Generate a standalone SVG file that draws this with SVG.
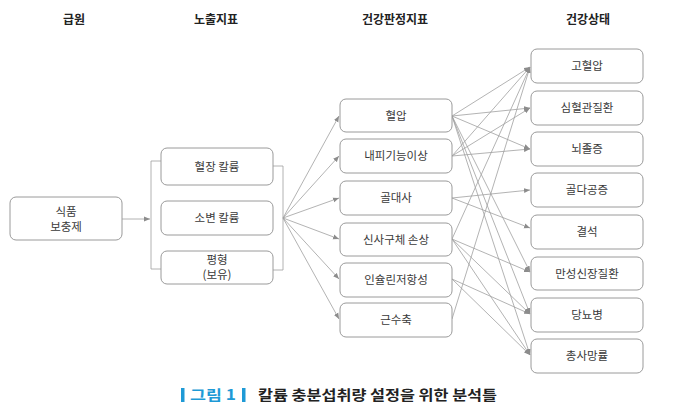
<svg xmlns="http://www.w3.org/2000/svg" width="674" height="415" viewBox="0 0 674 415">
<defs>
<marker id="ah" viewBox="0 0 6 6" refX="6" refY="3" markerWidth="6" markerHeight="6" markerUnits="userSpaceOnUse" orient="auto">
<path d="M0,0.5 L6,3 L0,5.5 Z" fill="#8c8c8c"/>
</marker>
<style>
.bx{fill:#fff;stroke:#9a9a9a;stroke-width:1}
.t{font-family:"Noto Sans CJK KR","Noto Sans",sans-serif;font-size:11.5px;fill:#3a3a3a;text-anchor:middle}
.h{font-family:"Noto Sans CJK KR","Noto Sans",sans-serif;font-size:12px;font-weight:bold;fill:#222;text-anchor:middle}
.c line,.c path{stroke:#a0a0a0;stroke-width:0.8;fill:none}
.a{marker-end:url(#ah)}
</style>
</defs>
<rect width="674" height="415" fill="#fff"/>
<g id="headers">
<text class="h" x="74" y="24">급원</text>
<text class="h" x="216" y="24">노출지표</text>
<text class="h" x="395" y="24">건강판정지표</text>
<text class="h" x="588" y="24">건강상태</text>
</g>
<g id="connectors" class="c">
<line class="a" x1="122" y1="219" x2="150" y2="219"/>
<path d="M161,161 H151 V269 H161"/>
<path d="M273,166 H283 V270 H273"/>
<line class="a" x1="283" y1="218" x2="339" y2="116"/>
<line class="a" x1="283" y1="218" x2="339" y2="156"/>
<line class="a" x1="283" y1="218" x2="339" y2="198"/>
<line class="a" x1="283" y1="218" x2="339" y2="239"/>
<line class="a" x1="283" y1="218" x2="339" y2="279"/>
<line class="a" x1="283" y1="218" x2="339" y2="319"/>
<line class="a" x1="452" y1="116" x2="530" y2="67"/>
<line class="a" x1="452" y1="116" x2="530" y2="108"/>
<line class="a" x1="452" y1="116" x2="530" y2="149"/>
<line class="a" x1="452" y1="116" x2="530" y2="272"/>
<line class="a" x1="452" y1="116" x2="530" y2="314"/>
<line class="a" x1="452" y1="116" x2="530" y2="355"/>
<line class="a" x1="452" y1="156" x2="530" y2="67"/>
<line class="a" x1="452" y1="156" x2="530" y2="108"/>
<line class="a" x1="452" y1="156" x2="530" y2="149"/>
<line class="a" x1="452" y1="198" x2="530" y2="190"/>
<line class="a" x1="452" y1="198" x2="530" y2="228"/>
<line class="a" x1="452" y1="239" x2="530" y2="67"/>
<line class="a" x1="452" y1="239" x2="530" y2="272"/>
<line class="a" x1="452" y1="239" x2="530" y2="314"/>
<line class="a" x1="452" y1="239" x2="530" y2="355"/>
<line class="a" x1="452" y1="279" x2="530" y2="314"/>
<line class="a" x1="452" y1="279" x2="530" y2="355"/>
<line class="a" x1="452" y1="319" x2="530" y2="67"/>
</g>
<g id="n-food"><rect class="bx" x="10" y="197" width="112" height="43" rx="6"/><text class="t" x="66" y="216">식품</text><text class="t" x="66" y="231">보충제</text></g>
<g id="n-plasma"><rect class="bx" x="161" y="148" width="112" height="37" rx="6"/><text class="t" x="217" y="171">혈장 칼륨</text></g>
<g id="n-urine"><rect class="bx" x="161" y="201" width="112" height="34" rx="6"/><text class="t" x="217" y="222">소변 칼륨</text></g>
<g id="n-balance"><rect class="bx" x="161" y="251" width="112" height="33" rx="6"/><text class="t" x="217" y="264">평형</text><text class="t" x="217" y="279">(보유)</text></g>
<g id="n-bp"><rect class="bx" x="340" y="99" width="112" height="33" rx="6"/><text class="t" x="396" y="120">혈압</text></g>
<g id="n-endo"><rect class="bx" x="340" y="139" width="112" height="34" rx="6"/><text class="t" x="396" y="160">내피기능이상</text></g>
<g id="n-bone"><rect class="bx" x="340" y="181" width="112" height="34" rx="6"/><text class="t" x="396" y="202">골대사</text></g>
<g id="n-glom"><rect class="bx" x="340" y="223" width="112" height="33" rx="6"/><text class="t" x="396" y="244">신사구체 손상</text></g>
<g id="n-insulin"><rect class="bx" x="340" y="263" width="112" height="34" rx="6"/><text class="t" x="396" y="284">인슐린저항성</text></g>
<g id="n-muscle"><rect class="bx" x="340" y="303" width="112" height="34" rx="6"/><text class="t" x="396" y="324">근수축</text></g>
<g id="n-htn"><rect class="bx" x="531" y="49" width="112" height="34" rx="6"/><text class="t" x="587" y="70">고혈압</text></g>
<g id="n-cvd"><rect class="bx" x="531" y="91" width="112" height="34" rx="6"/><text class="t" x="587" y="112">심혈관질환</text></g>
<g id="n-stroke"><rect class="bx" x="531" y="132" width="112" height="34" rx="6"/><text class="t" x="587" y="153">뇌졸증</text></g>
<g id="n-osteo"><rect class="bx" x="531" y="173" width="112" height="34" rx="6"/><text class="t" x="587" y="194">골다공증</text></g>
<g id="n-stone"><rect class="bx" x="531" y="215" width="112" height="34" rx="6"/><text class="t" x="587" y="236">결석</text></g>
<g id="n-ckd"><rect class="bx" x="531" y="257" width="112" height="33" rx="6"/><text class="t" x="587" y="278">만성신장질환</text></g>
<g id="n-dm"><rect class="bx" x="531" y="298" width="112" height="34" rx="6"/><text class="t" x="587" y="319">당뇨병</text></g>
<g id="n-mort"><rect class="bx" x="531" y="339" width="112" height="34" rx="6"/><text class="t" x="587" y="360">총사망률</text></g>
<g id="caption">
<rect x="181" y="388" width="3.5" height="14" fill="#1e9ad6"/>
<text x="190" y="400" font-family="&quot;Noto Sans CJK KR&quot;,sans-serif" font-size="14" font-weight="bold" fill="#1e9ad6" textLength="46" lengthAdjust="spacingAndGlyphs">그림 1</text>
<rect x="242" y="388" width="3.5" height="14" fill="#1e9ad6"/>
<text x="258" y="400" font-family="&quot;Noto Sans CJK KR&quot;,sans-serif" font-size="13.5" font-weight="bold" fill="#222" textLength="239" lengthAdjust="spacingAndGlyphs">칼륨 충분섭취량 설정을 위한 분석틀</text>
</g>
</svg>
